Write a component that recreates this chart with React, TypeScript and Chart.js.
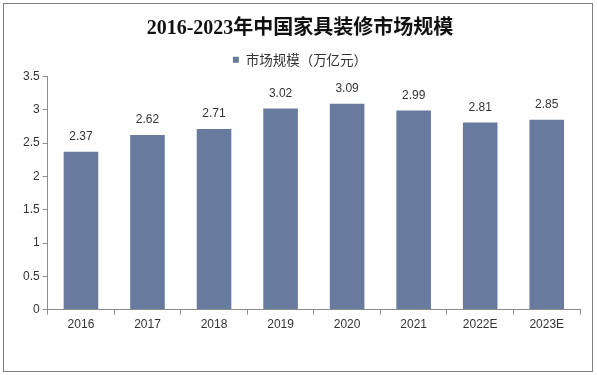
import React, { useEffect, useRef } from "react";
import { Chart, registerables } from "chart.js";

Chart.register(...registerables);

const categories = ["2016", "2017", "2018", "2019", "2020", "2021", "2022E", "2023E"];
const marketSize = [2.37, 2.62, 2.71, 3.02, 3.09, 2.99, 2.81, 2.85];
const seriesName = "市场规模（万亿元）";
const titleText = "2016-2023年中国家具装修市场规模";

const BAR_COLOR = "#687b9f";
const AXIS_COLOR = "#8c8c8c";
const TEXT_COLOR = "#333333";
const SANS = "'Liberation Sans', Arial, 'Noto Sans CJK SC', sans-serif";

const valueLabels = {
  id: "valueLabels",
  afterDatasetsDraw(chart: any) {
    const ctx = chart.ctx;
    const meta = chart.getDatasetMeta(0);
    ctx.save();
    ctx.font = `12px ${SANS}`;
    ctx.fillStyle = TEXT_COLOR;
    ctx.textAlign = "center";
    ctx.textBaseline = "middle";
    meta.data.forEach((bar: any, i: number) => {
      const v = chart.data.datasets[0].data[i] as number;
      ctx.fillText(v.toFixed(2), bar.x, bar.y - 15);
    });
    ctx.restore();
  },
};

export default function App() {
  const ref = useRef<HTMLCanvasElement>(null);
  useEffect(() => {
    if (!ref.current) return;
    const chart = new Chart(ref.current, {
      type: "bar",
      data: {
        labels: categories,
        datasets: [
          {
            label: seriesName,
            data: marketSize,
            backgroundColor: BAR_COLOR,
            borderWidth: 0,
            categoryPercentage: 1,
            barPercentage: 0.52,
          },
        ],
      },
      options: {
        responsive: false,
        animation: false,
        layout: { padding: { left: 20, right: 17, top: 12, bottom: 40 } },
        plugins: {
          tooltip: { enabled: false },
          title: {
            display: true,
            text: titleText,
            color: "#111111",
            font: { family: "'Liberation Serif', 'Noto Sans CJK SC', serif", size: 20, weight: "bold" },
            padding: { top: 5, bottom: 6 },
          },
          legend: {
            display: true,
            position: "top",
            labels: {
              boxWidth: 6,
              boxHeight: 6,
              color: TEXT_COLOR,
              font: { family: "'Noto Sans CJK SC', sans-serif", size: 13.5 },
              padding: 6,
            },
          },
        },
        scales: {
          x: {
            grid: {
              display: true,
              drawOnChartArea: false,
              drawTicks: true,
              tickLength: 5,
              color: AXIS_COLOR,
              offset: true,
            },
            border: { display: true, color: AXIS_COLOR },
            ticks: { color: TEXT_COLOR, font: { family: SANS, size: 12 }, padding: 3 },
          },
          y: {
            min: 0,
            max: 3.5,
            ticks: {
              stepSize: 0.5,
              color: TEXT_COLOR,
              font: { family: SANS, size: 12 },
              padding: 3,
              callback: (v: any) => String(Number(v)),
            },
            grid: {
              display: true,
              drawOnChartArea: false,
              drawTicks: true,
              tickLength: 5,
              color: AXIS_COLOR,
            },
            border: { display: true, color: AXIS_COLOR },
          },
        },
      },
      plugins: [valueLabels],
    });
    return () => chart.destroy();
  }, []);

  return (
    <div style={{ position: "fixed", left: 0, top: 0, width: 597, height: 375, background: "#fff" }}>
      <div
        style={{
          position: "absolute",
          left: 3,
          top: 3,
          width: 590,
          height: 369,
          boxSizing: "border-box",
          border: "1px solid #808080",
        }}
      />
      <canvas ref={ref} width={597} height={375} style={{ position: "absolute", left: 0, top: 0 }} />
    </div>
  );
}
